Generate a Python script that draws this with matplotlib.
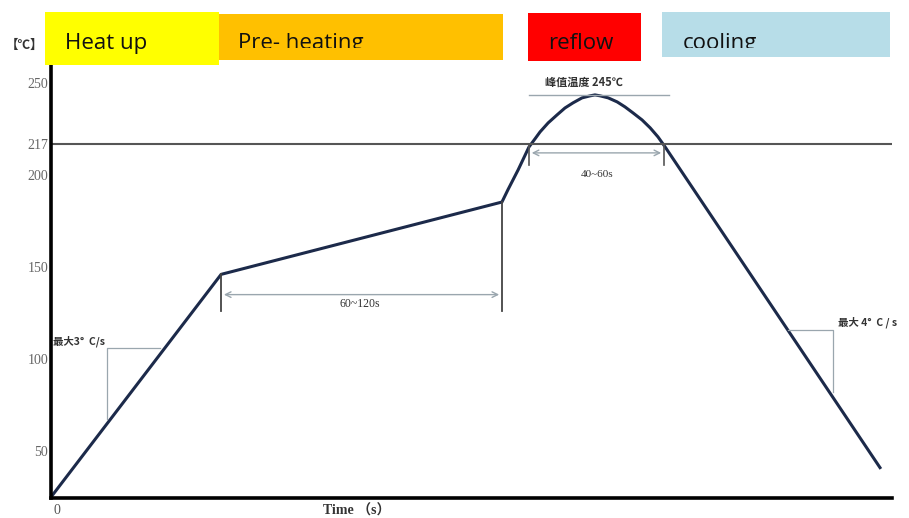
import matplotlib.pyplot as plt
from matplotlib.patches import Rectangle
from matplotlib.transforms import Bbox, TransformedBbox

# reflow profile, time in s (schematic), temperature in degC
time = [0, 56.7, 150.3, 152.3, 154, 155.7, 157.3, 159.3, 161.3, 163, 165.7, 168.7,
        171.3, 174, 177, 179.7, 181.3, 183, 185.7, 188.7, 191.3, 194, 197, 199.7,
        202.3, 204.7, 276.3]
temp = [25, 146, 185.3, 192, 197.4, 202.8, 208.3, 215.2, 219.6, 223.4, 228.3, 232.7,
        236.4, 239.2, 241.9, 243, 243.5, 243, 241.9, 239.7, 237, 233.7, 229.9, 225.6,
        220.7, 215.2, 41]

yticks = [50, 100, 150, 200, 217, 250]
liquidus = 217
peak_temp = 243.5

# phase boxes: label, colour, pixel box (x0, y0, x1, y1), text x, clipped
phases = ["Heat up", "Pre- heating", "reflow", "cooling"]
phase_colors = ["#FFFF00", "#FFC000", "#FF0000", "#B7DDE8"]
phase_px = [(45, 12, 219, 65), (219, 14, 503, 60), (528, 13, 641, 61), (662, 12, 890, 57)]
phase_text_x = [65, 238, 548, 683]
phase_clip = [False, True, False, True]

W, H = 909, 518
fig = plt.figure(figsize=(W / 100, H / 100), dpi=100)
ax = fig.add_axes([51 / W, 20 / H, 841 / W, 448 / H])

ax.plot(time, temp, color="#1c2a4a", lw=2.2, solid_joinstyle="round")
ax.axhline(liquidus, color="#555555", lw=1.5)

ax.set_xlim(0, 280.3)
ax.set_ylim(24.5, 267.9)
ax.set_yticks(yticks)
ax.set_yticklabels([str(v) for v in yticks], family="Liberation Serif", fontsize=10, color="#666666")
ax.tick_params(axis="y", length=0, pad=2)
ax.set_xticks([])
for s in ["top", "right"]:
    ax.spines[s].set_visible(False)
for s in ["left", "bottom"]:
    ax.spines[s].set_linewidth(2.6)
    ax.spines[s].set_color("black")

cjk = ["Noto Sans CJK SC", "DejaVu Sans"]
gray = "#9aa6ae"

# peak temperature marker
ax.plot([159.3, 206], [peak_temp, peak_temp], color=gray, lw=1)
ax.text(177.5, 250.5, "峰值温度 245℃", family=cjk, fontsize=8, ha="center", va="center",
        color="#333333", fontweight="bold")

# 40~60s above liquidus
for t in [159.3, 204.3]:
    ax.plot([t, t], [217, 205.6], color="#555555", lw=1.2)
ax.annotate("", xy=(159.3, 212), xytext=(204.3, 212),
            arrowprops=dict(arrowstyle="<->", color=gray, lw=1))
ax.text(182, 200, "40~60s", family="Liberation Serif", fontsize=8, ha="center", va="center",
        color="#333333")

# 60~120s preheat
ax.plot([56.7, 56.7], [146, 126], color="#444444", lw=1.3)
ax.plot([150.3, 150.3], [185.3, 126], color="#444444", lw=1.3)
ax.annotate("", xy=(56.7, 135), xytext=(150.3, 135),
            arrowprops=dict(arrowstyle="<->", color=gray, lw=1))
ax.text(103, 129.7, "60~120s", family="Liberation Serif", fontsize=8.5, ha="center", va="center",
        color="#333333")

# slope triangles
ax.plot([36.3, 18.7, 18.7], [105.8, 105.8, 67.3], color=gray, lw=0.9)
ax.text(0.5, 109.6, "最大3°  C/s", family=cjk, fontsize=7.5, ha="left", va="center",
        color="#333333", fontweight="bold")
ax.plot([245.5, 260.7, 260.7], [115.6, 115.6, 82], color=gray, lw=0.9)
ax.text(262.3, 120, "最大 4°  C / s", family=cjk, fontsize=7.5, ha="left", va="center",
        color="#333333", fontweight="bold")

# axis texts
fig.text(25 / W, 1 - 45 / H, "【℃】", family=cjk, fontsize=9, ha="center", va="center",
         color="#333333", fontweight="bold")
fig.text(57 / W, 1 - 511 / H, "0", family="Liberation Serif", fontsize=10, ha="center",
         va="center", color="#555555")
fig.text(357 / W, 1 - 511 / H, "Time （s）", family=["Liberation Serif", "Noto Sans CJK SC"],
         fontsize=10, ha="center", va="center", color="#333333", fontweight="bold")

# phase boxes
for name, col, (x0, y0, x1, y1), tx, clip in zip(phases, phase_colors, phase_px, phase_text_x, phase_clip):
    fig.add_artist(Rectangle((x0 / W, 1 - y1 / H), (x1 - x0) / W, (y1 - y0) / H,
                             transform=fig.transFigure, facecolor=col, edgecolor="none", zorder=5))
    t = fig.text(tx / W, 1 - 49 / H, name, family=["Open Sans", "DejaVu Sans"], fontsize=16,
                 ha="left", va="baseline", color="#111111", zorder=6)
    if clip:
        bb = TransformedBbox(Bbox([[x0 / W, 1 - 48 / H], [x1 / W, 1 - y0 / H]]), fig.transFigure)
        t.set_clip_box(bb)
        t.set_clip_on(True)

fig.savefig("out.png", dpi=100)
